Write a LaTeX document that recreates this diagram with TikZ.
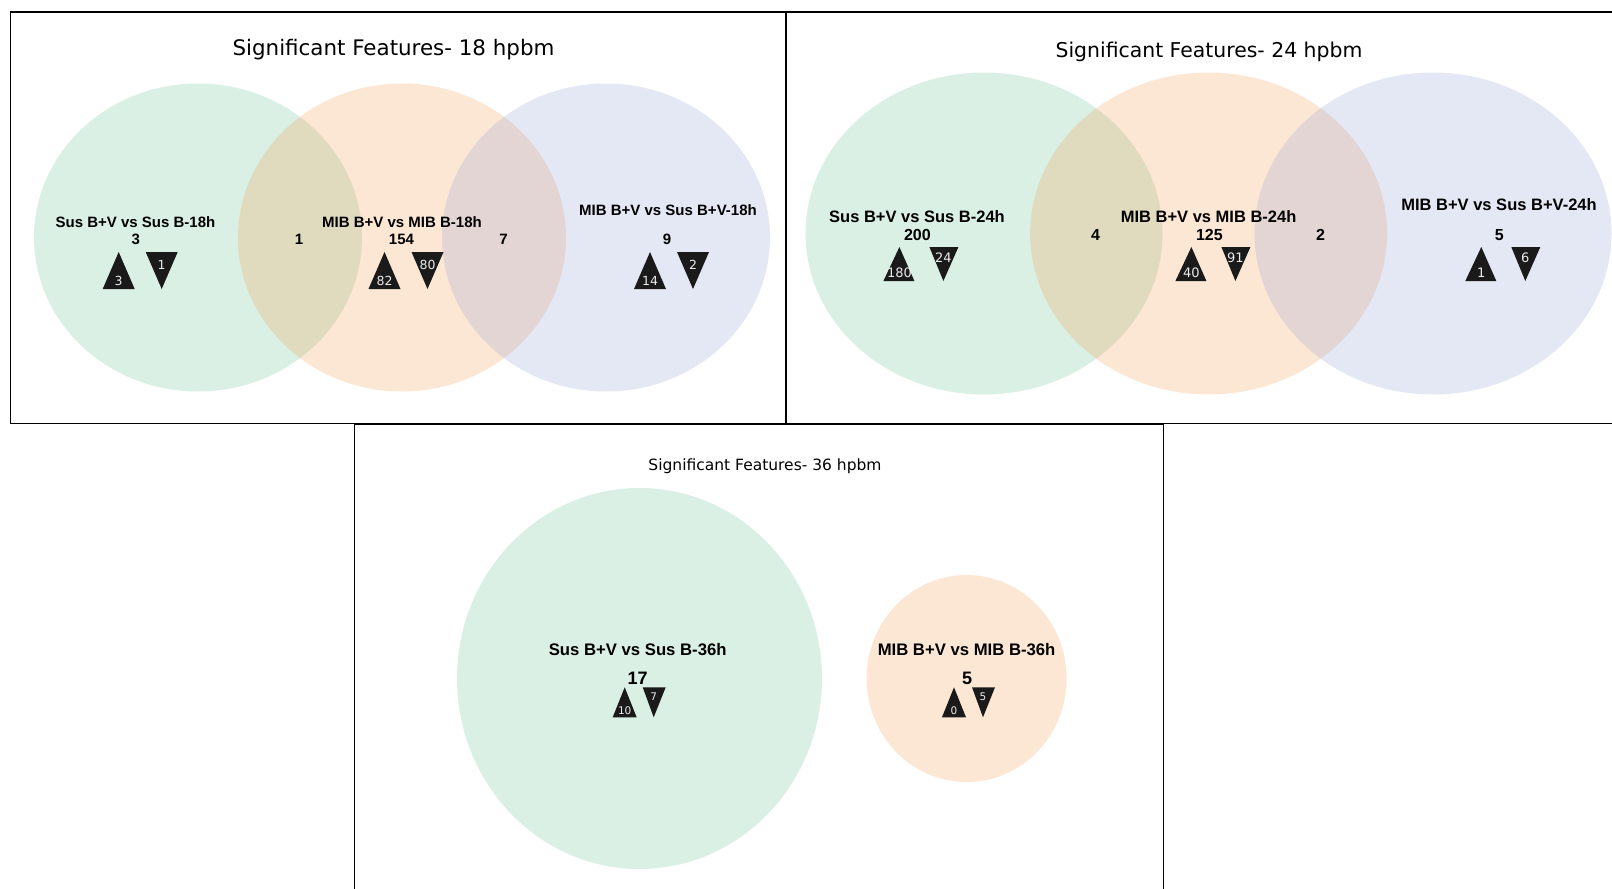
\documentclass[tikz,border=0pt]{standalone}
\usepackage{fontspec}
\setmainfont{DejaVu Sans}
\newfontfamily\lbfont{Liberation Sans}
\usetikzlibrary{shapes.geometric}
\definecolor{setgreen}{HTML}{6BC393}
\definecolor{setorange}{HTML}{F39B53}
\definecolor{setblue}{HTML}{93A3D3}
\definecolor{trifill}{HTML}{1A1A1A}

\begin{document}
\begin{tikzpicture}[x=1pt, y=-1pt,
        frame/.style={draw, line width=1.5pt},
        venn/.style={ellipse, fill opacity=0.25, inner sep=0},
        ttl/.style={inner sep=0, font=\fontsize{#1}{#1}\selectfont},
        setlbl/.style={inner sep=0, font=\lbfont\bfseries\fontsize{#1}{#1}\selectfont},
        cnt/.style={inner sep=0, font=\lbfont\bfseries\fontsize{#1}{#1}\selectfont},
        tnum/.style={inner sep=0, text=white!92!black, font=\fontsize{#1}{#1}\selectfont}]
    \useasboundingbox (0,0) rectangle (1612,889);

    % 18 hpbm
    \node[venn, fill=setgreen, minimum width=328, minimum height=308] (g18) at (198,237.5) {};
    \node[venn, fill=setorange, minimum width=328, minimum height=308] (o18) at (402,237.5) {};
    \node[venn, fill=setblue, minimum width=328, minimum height=308] (b18) at (606,237.5) {};
    \node[ttl=21.4] (t18) at (393.5,50) {Significant Features- 18 hpbm};
    \node[setlbl=15] (l18a) at (135.5,221.7) {Sus B+V vs Sus B-18h};
    \node[setlbl=15] (l18b) at (402,221.7) {MIB B+V vs MIB B-18h};
    \node[setlbl=15] (l18c) at (668,210) {MIB B+V vs Sus B+V-18h};
    \node[cnt=15] (a1) at (135.7,239) {3};
    \node[cnt=15] (a12) at (299,239) {1};
    \node[cnt=15] (a2) at (401.5,239) {154};
    \node[cnt=15] (a23) at (503.6,239) {7};
    \node[cnt=15] (a3) at (667,239) {9};
    \foreach \n/\u/\d in {a1/3/1, a2/82/80, a3/14/2} {
        \begin{scope}[shift={(\n.center)}]
            \fill[trifill] (-33,50) -- (-1,50) -- (-17,13) -- cycle;
            \fill[trifill] (10,13) -- (42,13) -- (26,50) -- cycle;
            \node[tnum=12.5] (u\n) at (-17,42) {\u};
            \node[tnum=12.5] (d\n) at (26,26) {\d};
        \end{scope}
    }

    % 24 hpbm
    \node[venn, fill=setgreen, minimum width=357, minimum height=322] (g24) at (984,233.5) {};
    \node[venn, fill=setorange, minimum width=357, minimum height=322] (o24) at (1208.6,233.5) {};
    \node[venn, fill=setblue, minimum width=357, minimum height=322] (b24) at (1433,233.5) {};
    \node[ttl=20.4] (t24) at (1209,52) {Significant Features- 24 hpbm};
    \node[setlbl=16.5] (l24a) at (917,216.7) {Sus B+V vs Sus B-24h};
    \node[setlbl=16.5] (l24b) at (1208.6,216.7) {MIB B+V vs MIB B-24h};
    \node[setlbl=16.5] (l24c) at (1499,205) {MIB B+V vs Sus B+V-24h};
    \node[cnt=16] (b1) at (917.4,235) {200};
    \node[cnt=16] (b12) at (1095.6,235) {4};
    \node[cnt=16] (b2) at (1209.4,235) {125};
    \node[cnt=16] (b23) at (1320.5,235) {2};
    \node[cnt=16] (b3) at (1499.3,235) {5};
    \foreach \n/\u/\d in {b1/180/24, b2/40/91, b3/1/6} {
        \begin{scope}[shift={(\n.center)}]
            \fill[trifill] (-34,46) -- (-3,46) -- (-18,12) -- cycle;
            \fill[trifill] (12,12) -- (41,12) -- (26,46) -- cycle;
            \node[tnum=13] (u\n) at (-18,38) {\u};
            \node[tnum=13] (d\n) at (26,23) {\d};
        \end{scope}
    }

    % 36 hpbm
    \node[venn, fill=setgreen, minimum width=365, minimum height=381] (g36) at (639.5,678.5) {};
    \node[venn, fill=setorange, minimum width=200, minimum height=207] (o36) at (966.6,678.5) {};
    \node[ttl=15.5] (t36) at (765,466.7) {Significant Features- 36 hpbm};
    \node[setlbl=16.7] (l36a) at (637.7,650) {Sus B+V vs Sus B-36h};
    \node[setlbl=16.7] (l36b) at (966.6,650) {MIB B+V vs MIB B-36h};
    \node[cnt=18] (c1) at (637.7,678.3) {17};
    \node[cnt=18] (c2) at (967,678.3) {5};
    \foreach \n/\u/\d in {c1/10/7, c2/0/5} {
        \begin{scope}[shift={(\n.center)}]
            \fill[trifill] (-25,39) -- (-1,39) -- (-13,9) -- cycle;
            \fill[trifill] (5,9) -- (28,9) -- (16,39) -- cycle;
            \node[tnum=10.5] (u\n) at (-13,32) {\u};
            \node[tnum=10.5] (d\n) at (16,18) {\d};
        \end{scope}
    }

    % panel frames
    \draw[frame] (10.3,12) rectangle (786,423.5);
    \draw[frame] (786,12) rectangle (1625,423.5);
    \draw[frame] (354.5,424.5) rectangle (1163.5,900);
\end{tikzpicture}
\end{document}
